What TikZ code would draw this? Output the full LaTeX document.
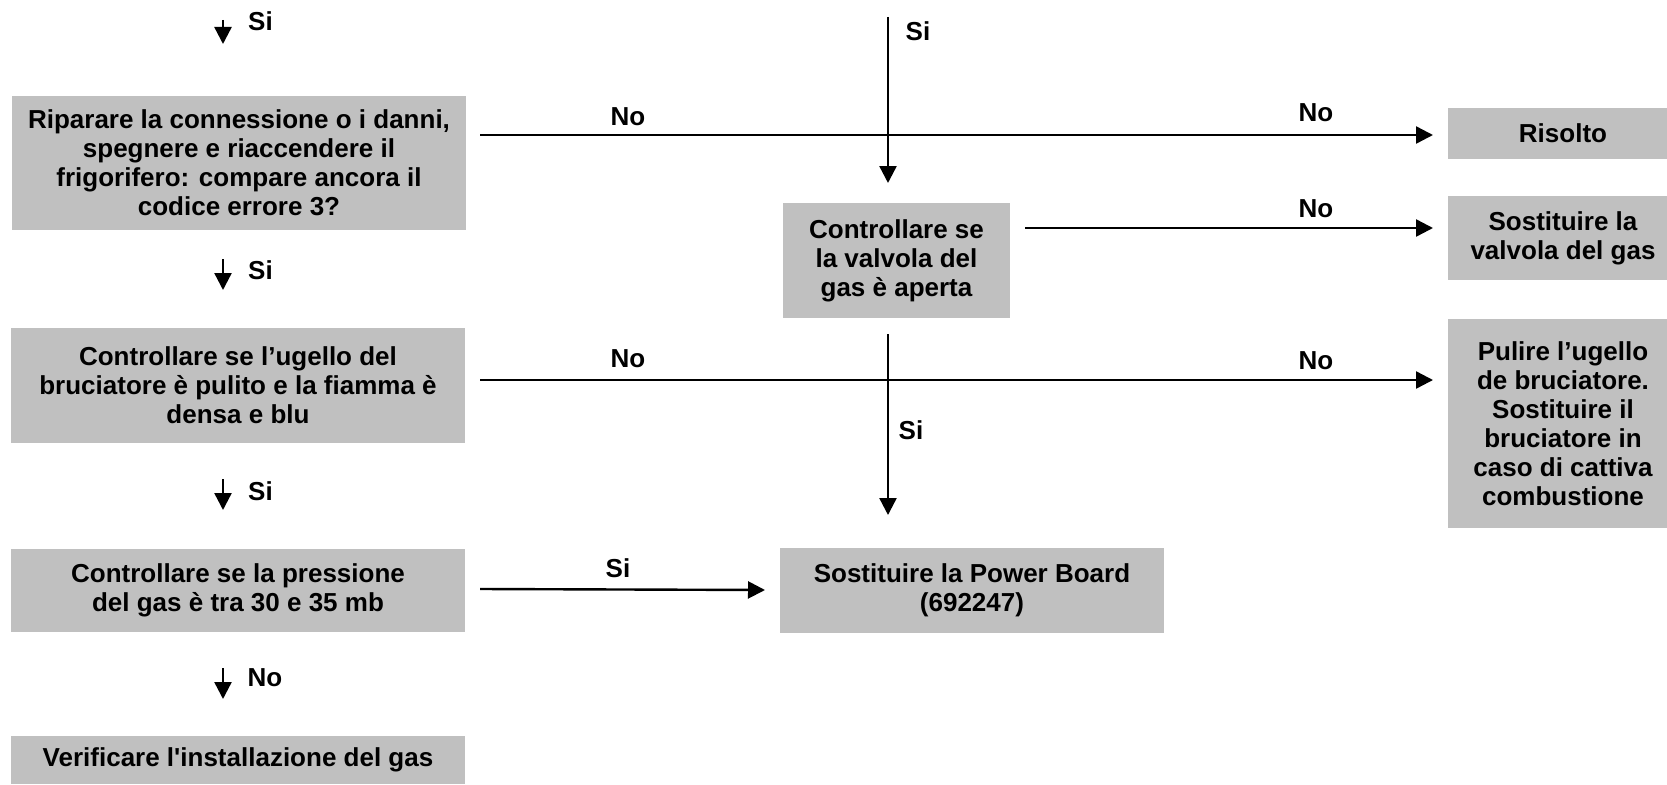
\documentclass[tikz,border=0pt]{standalone}
\usepackage{fontspec}
\setmainfont{Liberation Sans}
\usetikzlibrary{arrows.meta}
\definecolor{boxgray}{RGB}{192,192,192}
\begin{document}
\begin{tikzpicture}[x=1pt,y=-1pt,
  every node/.style={font=\fontsize{26}{29}\selectfont\bfseries},
  box/.style={fill=boxgray,inner sep=0pt,align=center},
  lbl/.style={inner sep=0pt},
  arr/.style={line width=2.4pt,-{Triangle[width=17pt,length=17pt]}}]
\useasboundingbox (0,0) rectangle (1667,784);
% boxes
\node[box,minimum width=454pt,minimum height=134pt] (b1) at (239,163)
  {Riparare la connessione o i danni,\\spegnere e riaccendere il\\frigorifero: compare ancora il\\codice errore 3?};
\node[box,minimum width=454pt,minimum height=115pt] (b2) at (238,385.5)
  {Controllare se l’ugello del\\bruciatore è pulito e la fiamma è\\densa e blu};
\node[box,minimum width=454pt,minimum height=83pt] (b3) at (238,590.5)
  {Controllare se la pressione\\del gas è tra 30 e 35 mb};
\node[box,minimum width=454pt,minimum height=48pt] (b4) at (238,760)
  {Verificare l\textquotesingle installazione del gas};
\node[box,minimum width=227pt,minimum height=115pt] (valv) at (896.5,260.5)
  {Controllare se\\la valvola del\\gas è aperta};
\node[box,minimum width=384pt,minimum height=85pt] (pb) at (972,590.5)
  {Sostituire la Power Board\\(692247)};
\node[box,minimum width=230pt,minimum height=51pt] (ris) at (1563,133.5) {Risolto};
\node[box,minimum width=230pt,minimum height=84pt] (sv) at (1563,238) {Sostituire la\\valvola del gas};
\node[box,minimum width=230pt,minimum height=209pt] (pu) at (1563,423.5)
  {Pulire l’ugello\\de bruciatore.\\Sostituire il\\bruciatore in\\caso di cattiva\\combustione};
% connector end points
\coordinate (s1a) at (223,20); \coordinate (s1b) at (223,44);
\coordinate (s2a) at (223,259); \coordinate (s2b) at (223,290);
\coordinate (s3a) at (223,479); \coordinate (s3b) at (223,510);
\coordinate (s4a) at (223,668); \coordinate (s4b) at (223,699);
\coordinate (h1a) at (480,135); \coordinate (h1b) at (1433,135);
\coordinate (v1a) at (888,17);  \coordinate (v1b) at (888,183);
\coordinate (h2a) at (1025,228); \coordinate (h2b) at (1433,228);
\coordinate (v2a) at (888,334); \coordinate (v2b) at (888,515);
\coordinate (h3a) at (480,380); \coordinate (h3b) at (1433,380);
\coordinate (h4a) at (480,589); \coordinate (h4b) at (765,590);
% connectors
\draw[arr] (s1a) -- (s1b);
\draw[arr] (s2a) -- (s2b);
\draw[arr] (s3a) -- (s3b);
\draw[arr] (s4a) -- (s4b);
\draw[arr] (h1a) -- (h1b);
\draw[arr] (v1a) -- (v1b);
\draw[arr] (h2a) -- (h2b);
\draw[arr] (v2a) -- (v2b);
\draw[arr] (h3a) -- (h3b);
\draw[arr] (h4a) -- (h4b);
% labels
\node[lbl] (l1) at (260.5,21) {Si};
\node[lbl] (l2) at (260.5,270) {Si};
\node[lbl] (l3) at (260.5,491) {Si};
\node[lbl] (l4) at (265,678) {No};
\node[lbl] (l5) at (628,117) {No};
\node[lbl] (l6) at (1316,113) {No};
\node[lbl] (l7) at (918,31) {Si};
\node[lbl] (l8) at (1316,209) {No};
\node[lbl] (l9) at (911,430) {Si};
\node[lbl] (l10) at (628,359) {No};
\node[lbl] (l11) at (1316,361) {No};
\node[lbl] (l12) at (618,568) {Si};
\end{tikzpicture}
\end{document}
